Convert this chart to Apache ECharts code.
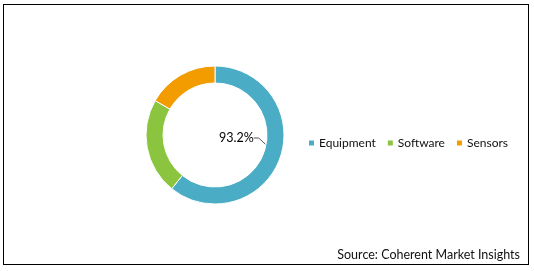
<!DOCTYPE html>
<html><head><meta charset="utf-8">
<script src="https://cdn.jsdelivr.net/npm/echarts@6/dist/echarts.min.js"></script>
<style>
html,body{margin:0;padding:0;background:#fff;}
#frame{position:absolute;left:3px;top:4px;width:524px;height:259px;border:1px solid #000;}
#c{position:absolute;left:0;top:0;width:534px;height:271px;}
</style></head>
<body>
<div id="frame"></div>
<div id="c"></div>
<script>
const categories = ["Equipment", "Software", "Sensors"];
const values = [60.8, 22.5, 16.7];
const colors = ["#4BACC6", "#8BC53F", "#F29C00"];
const labelText = "93.2%";
const sourceText = "Source: Coherent Market Insights";

const chart = echarts.init(document.getElementById('c'), null, {renderer: 'canvas'});
const font = 'Lato, sans-serif';
chart.setOption({
  animation: false,
  color: colors,
  legend: {
    left: 302, top: 132,
    itemWidth: 7, itemHeight: 7, itemGap: 10,
    icon: 'rect',
    textStyle: {fontFamily: font, fontSize: 12, color: '#111', padding: [0,0,0,-1]},
    data: categories
  },
  graphic: [{
    type: 'text', right: 14, bottom: 10,
    style: {text: sourceText, font: '12.5px ' + font, fill: '#111'}
  }],
  series: [{
    type: 'pie',
    center: [215, 135],
    radius: [52, 69],
    startAngle: 90,
    clockwise: true,
    itemStyle: {borderColor: '#fff', borderWidth: 1},
    emphasis: {disabled: true},
    data: categories.map((n, i) => ({
      name: n, value: values[i],
      label: {show: i === 0},
      labelLine: {show: i === 0}
    })),
    label: {
      formatter: () => labelText,
      fontFamily: font, fontSize: 12.5, color: '#000'
    },
    labelLine: {smooth: false, lineStyle: {color: '#555', width: 1}, length: 5, length2: 5},
    labelLayout: function (p) {
      return {x: 219, y: 138, align: 'left', verticalAlign: 'middle'};
    }
  }]
});
</script>
</body></html>
